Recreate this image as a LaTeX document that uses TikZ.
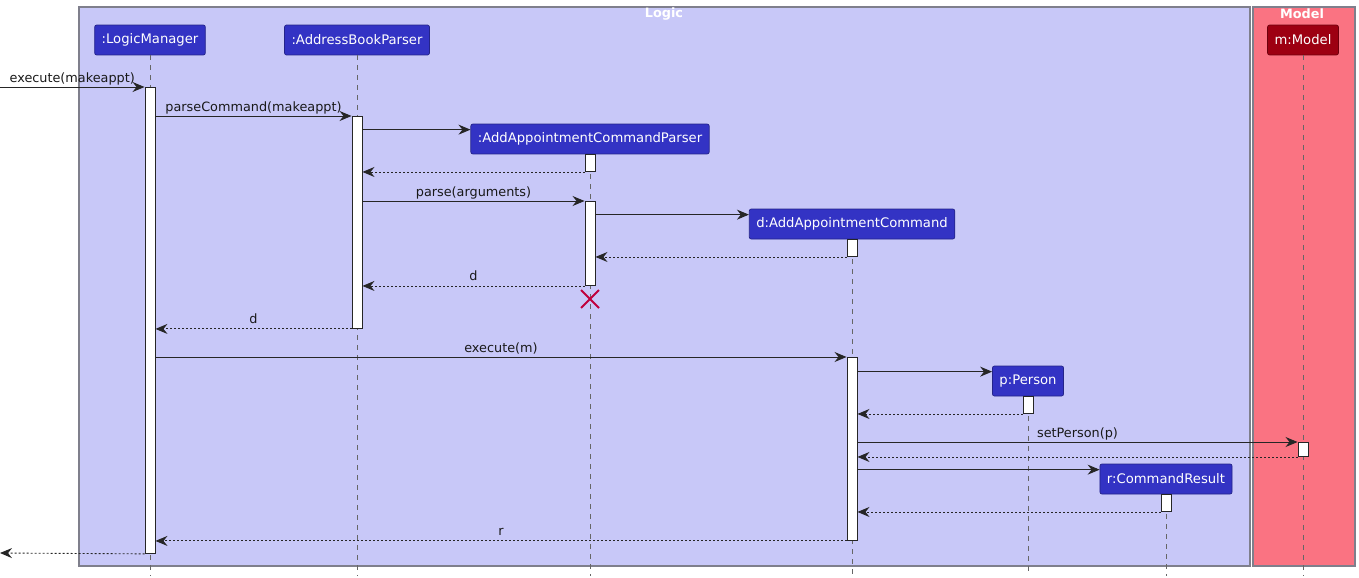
\documentclass[tikz,border=0pt]{standalone}
\usepackage{fontspec}
\setmainfont{DejaVu Sans}
\usepackage{xcolor}
\usepackage{tikz}
\usetikzlibrary{positioning,arrows.meta}
\definecolor{logicbg}{HTML}{C8C8F8}
\definecolor{modelbg}{HTML}{FA7382}
\definecolor{partfill}{HTML}{3333C4}
\definecolor{modelfill}{HTML}{9D0012}
\definecolor{framegray}{HTML}{7F7F8C}
\definecolor{killred}{HTML}{C0003C}

\begin{document}
\begin{tikzpicture}[x=0.02cm, y=-0.02cm,
  >={Stealth[length=0.24cm,width=0.2cm,inset=0.08cm]},
  part/.style={draw=partfill!70!black, fill=partfill, rounded corners=0.04cm, text=white,
    font=\fontsize{7.5}{9}\selectfont, minimum height=0.6cm, inner xsep=0.14cm, inner ysep=0pt},
  life/.style={draw=black!60, dash pattern=on 0.1cm off 0.1cm, line width=0.5pt},
  act/.style={draw=black!85, fill=white, minimum width=0.2cm, inner sep=0pt, line width=0.55pt, anchor=north},
  msg/.style={->, line width=0.5pt, draw=black!85},
  ret/.style={msg, dash pattern=on 0.04cm off 0.04cm},
  lbl/.style={anchor=base, font=\fontsize{7.3}{9}\selectfont, inner sep=0pt, yshift=0.1cm, text=black!90},
  group/.style={draw=framegray, line width=0.8pt},
  grouptitle/.style={text=white, font=\fontsize{7.3}{9}\selectfont\bfseries, inner sep=0pt}]
\useasboundingbox (0,0) rectangle (1359,578);

% boxes
\draw[group, fill=logicbg] (79,7) rectangle (1250,566);
\draw[group, fill=modelbg] (1253,7) rectangle (1355,566);
\node[grouptitle] (logicT) at (664,14) {Logic};
\node[grouptitle] (modelT) at (1302,14) {Model};

% participants
\node[part] (lm) at (150,40) {:LogicManager};
\node[part] (abp) at (357,40) {:AddressBookParser};
\node[part] (aacp) at (590,139) {:AddAppointmentCommandParser};
\node[part] (aac) at (852,224) {d:AddAppointmentCommand};
\node[part] (per) at (1028,381) {p:Person};
\node[part] (cr) at (1166,479) {r:CommandResult};
\node[part, fill=modelfill, draw=modelfill!70!black] (mdl) at (1303,40) {m:Model};

% lifelines
\coordinate (bot) at (0,576);
\foreach \p in {lm,abp,aacp,aac,per,cr,mdl}
  \draw[life] (\p.south) -- (\p.south |- bot);

% activations
\node[act, minimum height=9.32cm] (lmA) at (150,87) {};
\node[act, minimum height=4.24cm] (abpA) at (357,116) {};
\node[act, minimum height=0.34cm] (aacpA1) at (590,154) {};
\node[act, minimum height=1.68cm] (aacpA2) at (590,201) {};
\node[act, minimum height=0.34cm] (aacA1) at (852,239) {};
\node[act, minimum height=3.66cm] (aacA2) at (852,357) {};
\node[act, minimum height=0.34cm] (perA) at (1028,396) {};
\node[act, minimum height=0.28cm] (mdlA) at (1303,442) {};
\node[act, minimum height=0.34cm] (crA) at (1166,494) {};

% message ends
\coordinate (in1) at (0,87);
\coordinate (out1) at (0,553);
\coordinate (aacpIn) at ([yshift=-0.12cm]aacp.north west);
\coordinate (aacIn) at ([yshift=-0.12cm]aac.north west);
\coordinate (perIn) at ([yshift=-0.12cm]per.north west);
\coordinate (crIn) at ([yshift=-0.12cm]cr.north west);
\coordinate (kill) at (590,299);

% messages
\draw[msg] (in1) -- (lmA.north west) node[lbl, midway] {execute(makeappt)};
\draw[msg] (lmA.east |- abpA.north) -- (abpA.north west) node[lbl, midway] {parseCommand(makeappt)};
\draw[msg] (abpA.east |- aacpIn) -- (aacpIn);
\draw[ret] (aacpA1.south west) -- (abpA.east |- aacpA1.south);
\draw[msg] (abpA.east |- aacpA2.north) -- (aacpA2.north west) node[lbl, midway] {parse(arguments)};
\draw[msg] (aacpA2.east |- aacIn) -- (aacIn);
\draw[ret] (aacA1.south west) -- (aacpA2.east |- aacA1.south);
\draw[ret] (aacpA2.south west) -- (abpA.east |- aacpA2.south) node[lbl, midway] {d};
\draw[killred, line width=1.1pt] ([xshift=-0.18cm,yshift=0.18cm]kill) -- ([xshift=0.18cm,yshift=-0.18cm]kill)
  ([xshift=-0.18cm,yshift=-0.18cm]kill) -- ([xshift=0.18cm,yshift=0.18cm]kill);
\draw[ret] (abpA.south west) -- (lmA.east |- abpA.south) node[lbl, midway] {d};
\draw[msg] (lmA.east |- aacA2.north) -- (aacA2.north west) node[lbl, midway] {execute(m)};
\draw[msg] (aacA2.east |- perIn) -- (perIn);
\draw[ret] (perA.south west) -- (aacA2.east |- perA.south);
\draw[msg] (aacA2.east |- mdlA.north) -- (mdlA.north west) node[lbl, midway] {setPerson(p)};
\draw[ret] (mdlA.south west) -- (aacA2.east |- mdlA.south);
\draw[msg] (aacA2.east |- crIn) -- (crIn);
\draw[ret] (crA.south west) -- (aacA2.east |- crA.south);
\draw[ret] (aacA2.south west) -- (lmA.east |- aacA2.south) node[lbl, midway] {r};
\draw[ret] (lmA.south west) -- (out1);
\end{tikzpicture}
\end{document}
